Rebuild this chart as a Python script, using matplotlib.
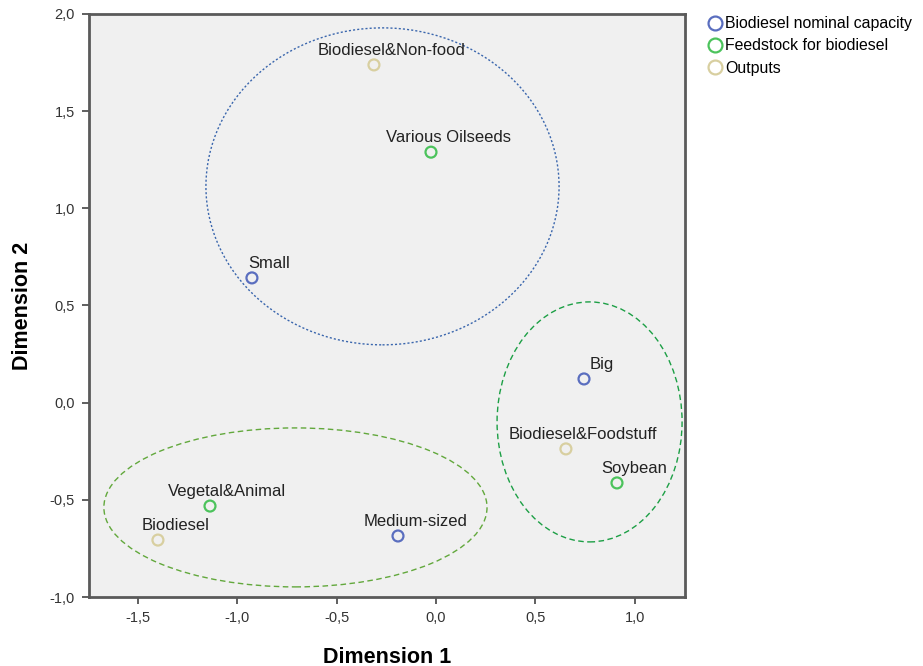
import matplotlib
matplotlib.use("Agg")
from matplotlib import pyplot as plt
from matplotlib.patches import Ellipse
from matplotlib.lines import Line2D
from matplotlib.ticker import FuncFormatter

# category points (Dimension 1, Dimension 2)
capacity_names = ["Small", "Big", "Medium-sized"]
capacity_x = [-0.926, 0.745, -0.191]
capacity_y = [0.642, 0.122, -0.686]

feedstock_names = ["Various Oilseeds", "Soybean", "Vegetal&Animal"]
feedstock_x = [-0.025, 0.911, -1.137]
feedstock_y = [1.289, -0.413, -0.532]

output_names = ["Biodiesel&Non-food", "Biodiesel&Foodstuff", "Biodiesel"]
output_x = [-0.312, 0.654, -1.399]
output_y = [1.738, -0.238, -0.707]

series_labels = ["Biodiesel nominal capacity", "Feedstock for biodiesel", "Outputs"]
series_colors = ["#5a6ebf", "#4cc35c", "#d8cfa0"]

# group ellipses: center x, center y, width, height
ell_cx = [-0.269, 0.773, -0.707]
ell_cy = [1.113, -0.099, -0.539]
ell_w = [1.777, 0.931, 1.928]
ell_h = [1.631, 1.235, 0.818]
ell_colors = ["#3a66ad", "#1c9f45", "#62a83c"]
ell_styles = [(0, (1.5, 1.5)), (0, (4, 2.5)), (0, (4, 2.5))]

plt.rcParams['font.family'] = ['Liberation Sans', 'DejaVu Sans']

fig = plt.figure(figsize=(9.23, 6.66), dpi=100)
ax = fig.add_axes([0.0964, 0.1036, 0.6457, 0.8754])
ax.set_facecolor("#f0f0f0")

for cx, cy, w, h, c, ls in zip(ell_cx, ell_cy, ell_w, ell_h, ell_colors, ell_styles):
    ax.add_patch(Ellipse((cx, cy), w, h, fill=False, edgecolor=c,
                         linestyle=ls, linewidth=1.0, zorder=2))

groups = [(capacity_names, capacity_x, capacity_y),
          (feedstock_names, feedstock_x, feedstock_y),
          (output_names, output_x, output_y)]
for (names, xs, ys), color in zip(groups, series_colors):
    ax.scatter(xs, ys, s=62, facecolors="none", edgecolors=color,
               linewidths=1.6, zorder=3)
    for name, x, y in zip(names, xs, ys):
        ax.annotate(name, (x, y), xytext=(12.5, 5), textcoords="offset points",
                    ha="center", va="bottom", fontsize=12, color="#222222")

ax.set_xlim(-1.746, 1.253)
ax.set_ylim(-1.0, 2.0)
ax.set_xticks([-1.5, -1.0, -0.5, 0.0, 0.5, 1.0])
ax.set_yticks([-1.0, -0.5, 0.0, 0.5, 1.0, 1.5, 2.0])
comma = FuncFormatter(lambda v, p: ("%.1f" % v).replace(".", ","))
ax.xaxis.set_major_formatter(comma)
ax.yaxis.set_major_formatter(comma)
ax.tick_params(direction="out", length=5, width=1.2, color="#444444",
               labelsize=10.5, labelcolor="#333333", pad=5)
for sp in ax.spines.values():
    sp.set_color("#5a5a5a")
    sp.set_linewidth(2.0)

ax.set_xlabel("Dimension 1", fontsize=15.5, fontweight="bold")
ax.set_ylabel("Dimension 2", fontsize=15.5, fontweight="bold")
ax.xaxis.set_label_coords(0.5, -0.103)
ax.xaxis.label.set_va("center")
ax.yaxis.set_label_coords(-0.112, 0.5)
ax.yaxis.label.set_va("center")

handles = [Line2D([], [], linestyle="none", marker="o", markersize=10,
                  markerfacecolor="none", markeredgecolor=c, markeredgewidth=1.6)
           for c in series_colors]
fig.legend(handles, series_labels, loc="upper left", bbox_to_anchor=(0.757, 0.985),
           frameon=False, fontsize=11.4, handletextpad=0.05, labelspacing=0.45,
           handlelength=1.2, borderaxespad=0)

fig.savefig("out.png", dpi=100)
